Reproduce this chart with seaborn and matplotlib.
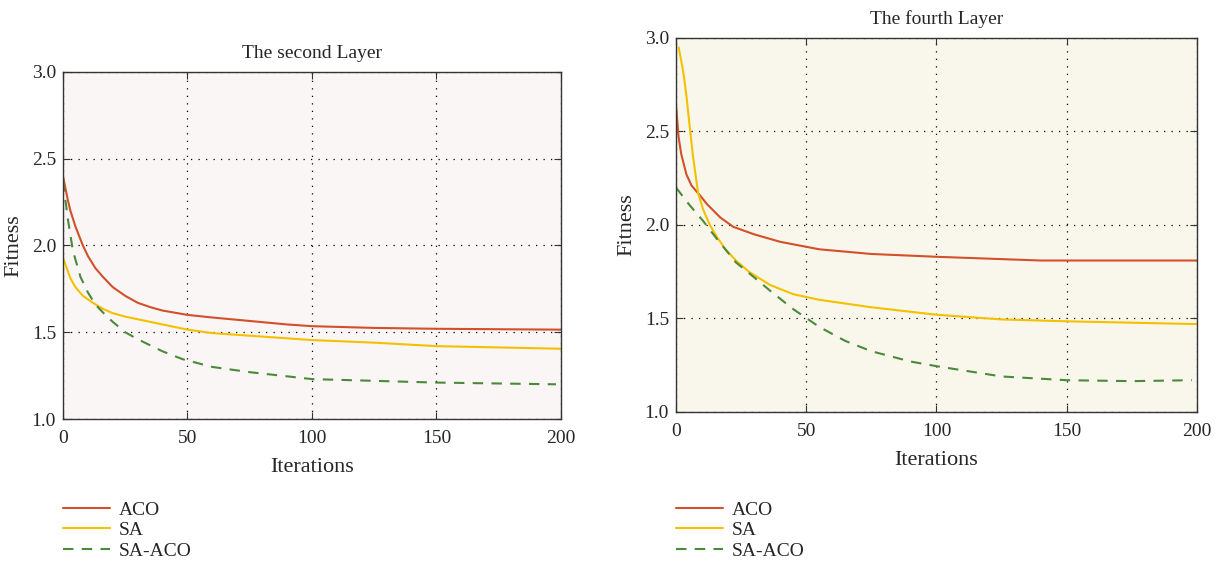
import numpy as np
import pandas as pd
import matplotlib
matplotlib.use("Agg")
import matplotlib.pyplot as plt
import seaborn as sns

# data

# second layer
l2_aco_x = [0, 1, 2, 3, 5, 8, 10, 13, 16, 20, 25, 30, 35, 40, 50, 60, 75, 90, 100, 125, 150, 200]
l2_aco_y = [2.40, 2.33, 2.26, 2.20, 2.11, 2.00, 1.94, 1.87, 1.82, 1.76, 1.71, 1.67, 1.645, 1.625,
            1.60, 1.585, 1.565, 1.545, 1.535, 1.525, 1.52, 1.515]
l2_sa_x = [0, 1, 2, 3, 5, 8, 12, 16, 20, 25, 30, 40, 50, 60, 75, 100, 125, 150, 200]
l2_sa_y = [1.93, 1.89, 1.85, 1.81, 1.76, 1.71, 1.67, 1.635, 1.61, 1.59, 1.575, 1.545, 1.515,
           1.495, 1.48, 1.455, 1.44, 1.42, 1.405]
l2_hyb_x = [0, 1, 2, 4, 7, 10, 13, 17, 20, 25, 30, 40, 48, 60, 75, 100, 125, 150, 198]
l2_hyb_y = [2.37, 2.26, 2.15, 1.97, 1.82, 1.73, 1.66, 1.60, 1.56, 1.50, 1.46, 1.39, 1.345,
            1.30, 1.27, 1.23, 1.22, 1.21, 1.20]

# fourth layer
l4_aco_x = [0, 1, 2, 4, 6, 8.5, 12, 17, 22, 30, 40, 55, 75, 100, 120, 140, 200]
l4_aco_y = [2.64, 2.47, 2.38, 2.27, 2.21, 2.17, 2.11, 2.04, 1.99, 1.95, 1.91, 1.87, 1.845,
            1.83, 1.82, 1.81, 1.81]
l4_sa_x = [1, 2, 3, 4, 5, 6.5, 8.5, 10.5, 13, 15.5, 19, 23, 28, 36, 45, 55, 75, 100, 125,
           150, 200]
l4_sa_y = [2.95, 2.88, 2.80, 2.69, 2.56, 2.37, 2.17, 2.08, 2.00, 1.94, 1.87, 1.81, 1.75,
           1.68, 1.63, 1.60, 1.56, 1.52, 1.495, 1.485, 1.47]
l4_hyb_x = [0, 5, 10.5, 16, 23, 30, 36, 45, 55, 65, 75, 90, 100, 125, 150, 175, 198]
l4_hyb_y = [2.20, 2.11, 2.02, 1.92, 1.80, 1.72, 1.65, 1.55, 1.455, 1.38, 1.325, 1.27, 1.245,
            1.19, 1.17, 1.165, 1.17]

methods = ["ACO", "SA", "SA-ACO"]
colors = {"ACO": "#d2502a", "SA": "#f5c000", "SA-ACO": "#4a8a3a"}
dashes = {"ACO": "", "SA": "", "SA-ACO": (5, 4)}


def to_frame(series):
    rows = []
    for name, xs, ys in series:
        for x, y in zip(xs, ys):
            rows.append({"Iterations": x, "Fitness": y, "method": name})
    return pd.DataFrame(rows)


df2 = to_frame([("ACO", l2_aco_x, l2_aco_y), ("SA", l2_sa_x, l2_sa_y),
                ("SA-ACO", l2_hyb_x, l2_hyb_y)])
df4 = to_frame([("ACO", l4_aco_x, l4_aco_y), ("SA", l4_sa_x, l4_sa_y),
                ("SA-ACO", l4_hyb_x, l4_hyb_y)])

sns.set_style("ticks")
plt.rcParams["font.family"] = ["Liberation Serif", "DejaVu Serif"]
plt.rcParams["font.size"] = 13

fig = plt.figure(figsize=(12.2, 5.61), dpi=100)
ax1 = fig.add_axes([0.0516, 0.2531, 0.4082, 0.6186])
ax2 = fig.add_axes([0.5541, 0.2656, 0.4270, 0.6667])


def draw(ax, df, title, bg, legend_y):
    ax.set_facecolor(bg)
    sns.lineplot(data=df, x="Iterations", y="Fitness", hue="method", style="method",
                 hue_order=methods, style_order=methods, palette=colors,
                 dashes=dashes, linewidth=1.5, ax=ax, legend=False,
                 estimator=None, sort=True)
    ax.set_xlim(0, 200)
    ax.set_ylim(1.0, 3.0)
    ax.set_xticks([0, 50, 100, 150, 200])
    ax.set_yticks([1.0, 1.5, 2.0, 2.5, 3.0])
    ax.set_yticklabels(["1.0", "1.5", "2.0", "2.5", "3.0"])
    ax.grid(True, color="black", linestyle=(0, (1, 5)), linewidth=0.9)
    ax.tick_params(direction="in", top=True, right=True, length=5,
                   labelsize=14, color="#333333")
    ax.tick_params(axis="x", pad=8)
    ax.tick_params(axis="y", pad=5)
    for s in ax.spines.values():
        s.set_color("#333333")
        s.set_linewidth(1.0)
    ax.set_title(title, fontsize=14, pad=10)
    ax.set_xlabel("Iterations", fontsize=16, labelpad=8)
    ax.set_ylabel("Fitness", fontsize=16, labelpad=6)

    handles = [plt.Line2D([], [], color=colors[m], linewidth=1.5,
                          linestyle=(0, dashes[m]) if dashes[m] else "-")
               for m in methods]
    box = ax.get_position()
    fig.legend(handles, methods, loc="upper left",
               bbox_to_anchor=(box.x0, legend_y), frameon=False,
               fontsize=14, handlelength=2.4, handletextpad=0.45,
               labelspacing=0.15, borderpad=0, borderaxespad=0)


draw(ax1, df2, "The second Layer", "#faf6f5", 0.107)
draw(ax2, df4, "The fourth Layer", "#f9f7ec", 0.107)

fig.savefig("out.png", dpi=100)
